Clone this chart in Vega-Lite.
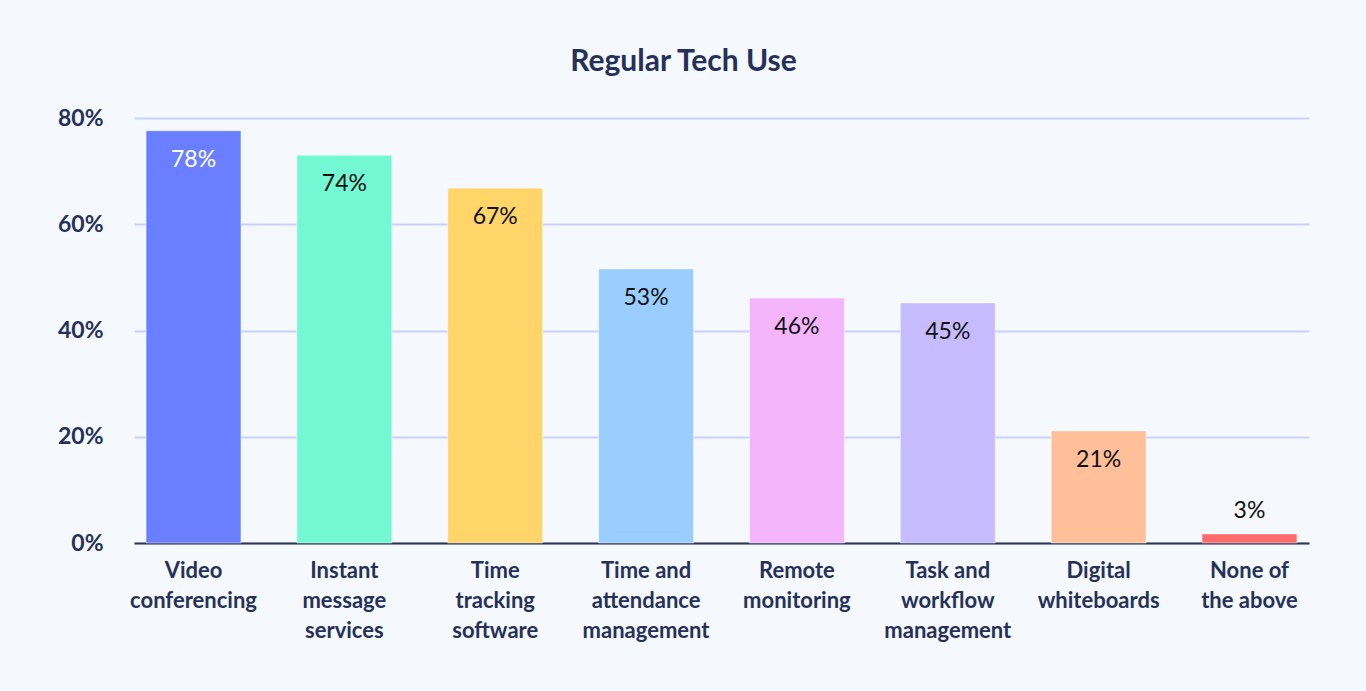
{
  "$schema": "https://vega.github.io/schema/vega-lite/v6.json",
  "autosize": "none",
  "width": 1175,
  "height": 425,
  "padding": {"left": 134, "top": 118, "right": 57, "bottom": 148},
  "background": "#f5f8fc",
  "config": {"view": {"stroke": null}, "font": "Lato"},
  "title": {
    "text": "Regular Tech Use",
    "font": "Lato",
    "fontSize": 30,
    "fontWeight": "bold",
    "color": "#263159",
    "anchor": "middle",
    "dx": -38,
    "offset": 30
  },
  "data": {
    "values": [
      {"cat": "Video conferencing", "value": 77.6, "label": "78%"},
      {"cat": "Instant message services", "value": 73.0, "label": "74%"},
      {"cat": "Time tracking software", "value": 66.8, "label": "67%"},
      {"cat": "Time and attendance management", "value": 51.6, "label": "53%"},
      {"cat": "Remote monitoring", "value": 46.1, "label": "46%"},
      {"cat": "Task and workflow management", "value": 45.2, "label": "45%"},
      {"cat": "Digital whiteboards", "value": 21.1, "label": "21%"},
      {"cat": "None of the above", "value": 1.7, "label": "3%"}
    ]
  },
  "encoding": {
    "x": {
      "field": "cat",
      "type": "nominal",
      "sort": null,
      "scale": {"paddingInner": 0.371, "paddingOuter": 0.08},
      "axis": {
        "title": null,
        "labelAngle": 0,
        "labelFont": "Lato",
        "labelFontSize": 22,
        "labelFontWeight": "bold",
        "labelColor": "#263159",
        "labelLineHeight": 30,
        "labelPadding": 17,
        "labelBaseline": "top",
        "ticks": false,
        "domainColor": "#2d3554",
        "domainWidth": 2,
        "labelExpr": "{'Video conferencing':['Video','conferencing'],'Instant message services':['Instant','message','services'],'Time tracking software':['Time','tracking','software'],'Time and attendance management':['Time and','attendance','management'],'Remote monitoring':['Remote','monitoring'],'Task and workflow management':['Task and','workflow','management'],'Digital whiteboards':['Digital','whiteboards'],'None of the above':['None of','the above']}[datum.value]"
      }
    },
    "y": {
      "field": "value",
      "type": "quantitative",
      "scale": {"domain": [0, 80]},
      "axis": {
        "title": null,
        "values": [0, 20, 40, 60, 80],
        "labelExpr": "datum.value + '%'",
        "labelFont": "Lato",
        "labelFontSize": 23,
        "labelFontWeight": "bold",
        "labelColor": "#263159",
        "labelPadding": 31,
        "ticks": false,
        "domain": false,
        "gridColor": "#c9d1fb",
        "gridWidth": 2
      }
    }
  },
  "layer": [
    {
      "mark": {"type": "bar", "strokeWidth": 1, "stroke": "#ffffff", "strokeOpacity": 0.45},
      "encoding": {
        "color": {
          "field": "cat",
          "type": "nominal",
          "sort": null,
          "legend": null,
          "scale": {"range": ["#6a7fff", "#72f8d3", "#ffd56a", "#99ceff", "#f4b5fc", "#c6bbfd", "#ffbf99", "#ff6b6b"]}
        }
      }
    },
    {
      "transform": [{"filter": "datum.value >= 10"}],
      "mark": {"type": "text", "baseline": "top", "dy": 18, "font": "Lato", "fontSize": 23},
      "encoding": {
        "text": {"field": "label"},
        "color": {
          "condition": {"test": "datum.cat === 'Video conferencing'", "value": "#ffffff"},
          "value": "#111111"
        }
      }
    },
    {
      "transform": [{"filter": "datum.value < 10"}],
      "mark": {"type": "text", "baseline": "bottom", "dy": -11, "font": "Lato", "fontSize": 23, "color": "#111111"},
      "encoding": {"text": {"field": "label"}}
    }
  ]
}
